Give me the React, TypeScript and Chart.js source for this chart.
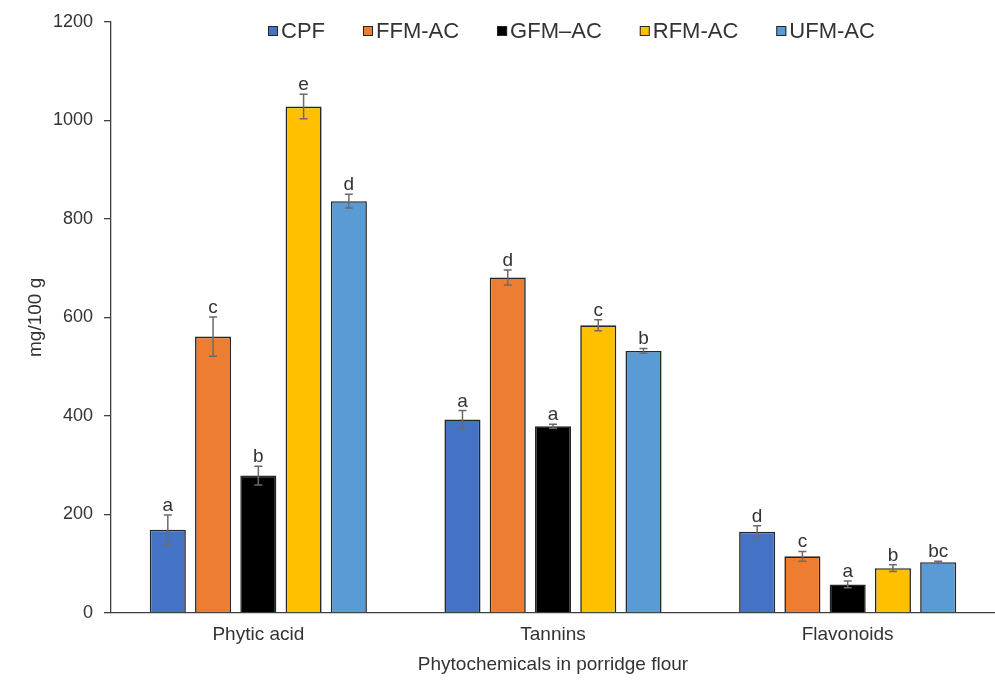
import React, { useEffect, useRef } from 'react';
import { Chart, registerables } from 'chart.js';

Chart.register(...registerables);

// ---- Data ----
const categories = ['Phytic acid', 'Tannins', 'Flavonoids'];
const seriesNames = ['CPF', 'FFM-AC', 'GFM–AC', 'RFM-AC', 'UFM-AC'];

const cpfValues = [169, 393, 165];
const ffmValues = [561, 681, 115];
const gfmValues = [279, 379, 58];
const rfmValues = [1028, 584, 91];
const ufmValues = [836, 532, 103];

const cpfErrors = [30, 18, 12];
const ffmErrors = [40, 15, 10];
const gfmErrors = [19, 4, 7];
const rfmErrors = [25, 11, 7];
const ufmErrors = [14, 5, 2];

const cpfLetters = ['a', 'a', 'd'];
const ffmLetters = ['c', 'd', 'c'];
const gfmLetters = ['b', 'a', 'a'];
const rfmLetters = ['e', 'c', 'b'];
const ufmLetters = ['d', 'b', 'bc'];

const yTicks = [0, 200, 400, 600, 800, 1000, 1200];

const seriesColors = ['#4472C4', '#ED7D31', '#000000', '#FFC000', '#5B9BD5'];

const FONT = '"Liberation Sans", Arial, sans-serif';
const TEXT = '#333333';
const AXIS = '#404040';

const seriesValues = [cpfValues, ffmValues, gfmValues, rfmValues, ufmValues];
const seriesErrors = [cpfErrors, ffmErrors, gfmErrors, rfmErrors, ufmErrors];
const seriesLetters = [cpfLetters, ffmLetters, gfmLetters, rfmLetters, ufmLetters];

const errorBarPlugin = {
  id: 'errorBars',
  afterDatasetsDraw(chart: any) {
    const ctx = chart.ctx;
    const yScale = chart.scales.y;
    chart.data.datasets.forEach((ds: any, i: number) => {
      const meta = chart.getDatasetMeta(i);
      meta.data.forEach((el: any, j: number) => {
        const v = ds.data[j];
        const e = ds.errors[j];
        const x = el.x;
        const yTop = yScale.getPixelForValue(v + e);
        const yBot = yScale.getPixelForValue(v - e);
        ctx.save();
        ctx.strokeStyle = '#6b6b6b';
        ctx.lineWidth = 1.5;
        ctx.beginPath();
        ctx.moveTo(x, yTop);
        ctx.lineTo(x, yBot);
        ctx.moveTo(x - 4, yTop);
        ctx.lineTo(x + 4, yTop);
        ctx.moveTo(x - 4, yBot);
        ctx.lineTo(x + 4, yBot);
        ctx.stroke();
        ctx.fillStyle = TEXT;
        ctx.font = `19px ${FONT}`;
        ctx.textAlign = 'center';
        ctx.textBaseline = 'alphabetic';
        ctx.fillText(ds.letters[j], x, yTop - 4);
        ctx.restore();
      });
    });
  },
};

const legendPlugin = {
  id: 'customLegend',
  afterDraw(chart: any) {
    const ctx = chart.ctx;
    ctx.save();
    ctx.font = `22px ${FONT}`;
    ctx.textBaseline = 'middle';
    ctx.textAlign = 'left';
    let x = 268;
    const y = 31;
    chart.data.datasets.forEach((ds: any) => {
      ctx.fillStyle = ds.backgroundColor;
      ctx.fillRect(x, y - 5, 10, 10);
      ctx.strokeStyle = '#262626';
      ctx.lineWidth = 1;
      ctx.strokeRect(x + 0.5, y - 4.5, 9, 9);
      ctx.fillStyle = TEXT;
      ctx.fillText(ds.label, x + 13, y + 1);
      x += 13 + ctx.measureText(ds.label).width + 38;
    });
    ctx.restore();
  },
};

export default function App() {
  const canvasRef = useRef<HTMLCanvasElement | null>(null);

  useEffect(() => {
    if (!canvasRef.current) return;
    const chart = new Chart(canvasRef.current, {
      type: 'bar',
      data: {
        labels: categories,
        datasets: seriesNames.map((name, i) => ({
          label: name,
          data: seriesValues[i],
          errors: seriesErrors[i],
          letters: seriesLetters[i],
          backgroundColor: seriesColors[i],
          borderColor: '#262626',
          borderWidth: 1.6,
          categoryPercentage: 0.768,
          barPercentage: 0.797,
        })) as any,
      },
      options: {
        animation: false,
        responsive: true,
        maintainAspectRatio: false,
        layout: { padding: { top: 20, right: 0, left: 0, bottom: 0 } },
        plugins: {
          legend: { display: false },
          tooltip: { enabled: false },
        },
        scales: {
          x: {
            grid: { display: false, drawTicks: false },
            border: { display: true, color: AXIS, width: 1.3 },
            ticks: { color: TEXT, font: { family: FONT, size: 19 }, padding: 10 },
            title: {
              display: true,
              text: 'Phytochemicals in porridge flour',
              color: TEXT,
              font: { family: FONT, size: 19 },
              padding: { top: 0, bottom: 4 },
            },
            afterFit: (s: any) => { s.height = 67; },
          },
          y: {
            min: 0,
            max: 1200,
            afterBuildTicks: (s: any) => { s.ticks = yTicks.map((v) => ({ value: v })); },
            grid: { drawOnChartArea: false, drawTicks: true, tickLength: 7, color: AXIS, lineWidth: 1.3 },
            border: { display: true, color: AXIS, width: 1.3 },
            ticks: {
              color: TEXT,
              font: { family: FONT, size: 18 },
              padding: 11,
              callback: (v: any) => String(v),
            },
            title: {
              display: true,
              text: 'mg/100 g',
              color: TEXT,
              font: { family: FONT, size: 19 },
              padding: { top: 24, bottom: 0 },
            },
            afterFit: (s: any) => { s.width = 111; },
          },
        },
      },
      plugins: [errorBarPlugin, legendPlugin],
    });
    return () => chart.destroy();
  }, []);

  return (
    <div style={{ position: 'absolute', left: 0, top: 0, width: 995, height: 680, background: '#fff' }}>
      <canvas ref={canvasRef} />
    </div>
  );
}
